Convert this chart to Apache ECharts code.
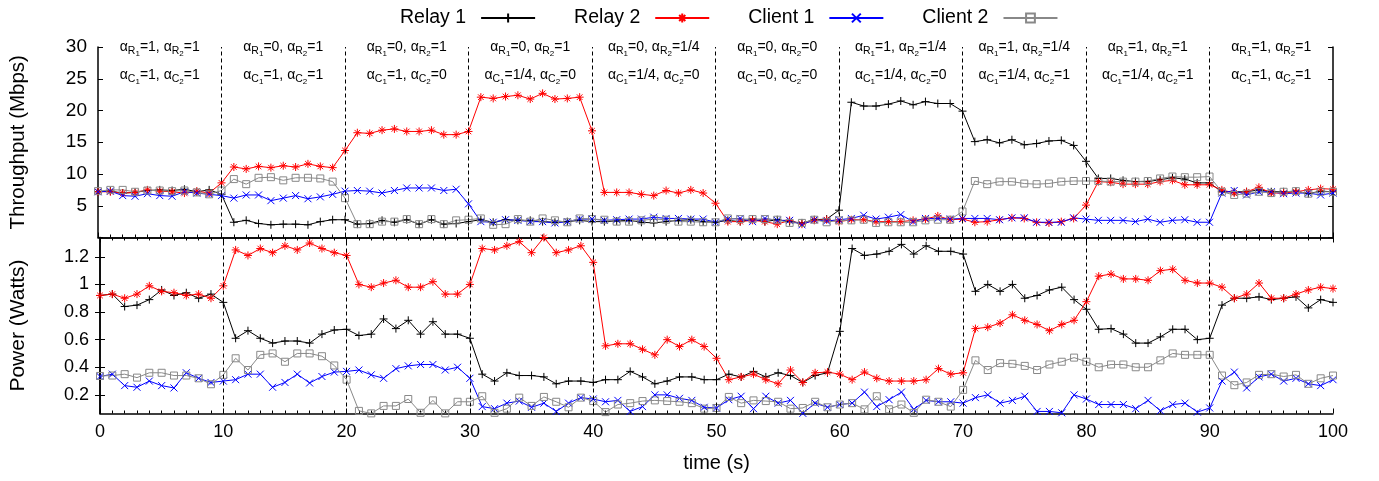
<!DOCTYPE html>
<html>
<head>
<meta charset="utf-8">
<script src="https://cdn.jsdelivr.net/npm/echarts@6/dist/echarts.min.js"></script>
<style>
  html, body { margin: 0; padding: 0; background: #fff; }
  #main { width: 1379px; height: 481px; }
</style>
</head>
<body>
<div id="main"></div>
<script>
// time axis, one sample per second
const seconds = [
  0,1,2,3,4,5,6,7,8,9,10,11,12,13,14,15,16,17,18,19,20,21,22,23,24,25,26,27,28,29,
  30,31,32,33,34,35,36,37,38,39,40,41,42,43,44,45,46,47,48,49,50,51,52,53,54,55,56,57,58,59,
  60,61,62,63,64,65,66,67,68,69,70,71,72,73,74,75,76,77,78,79,80,81,82,83,84,85,86,87,88,89,
  90,91,92,93,94,95,96,97,98,99,100
];

// throughput (Mbps)
const tputRelay1 = [
  7.2,7.3,7.0,7.1,7.4,7.5,7.4,7.6,7.2,7.5,
  6.8,2.4,2.7,2.2,2.0,2.1,2.1,2.0,2.5,2.8,
  2.8,2.1,2.2,2.7,2.4,2.8,2.1,2.8,2.1,2.2,
  2.5,2.8,2.4,2.8,2.7,2.7,2.5,2.4,2.5,2.7,
  2.5,2.5,2.6,2.7,2.4,2.3,2.5,2.7,2.8,2.5,
  2.4,2.7,2.5,2.9,2.5,2.8,2.5,2.3,2.8,2.9,
  4.3,21.3,20.7,20.7,21.0,21.5,20.9,21.4,21.1,21.1,
  19.9,15.1,15.4,14.9,15.4,14.6,14.8,15.2,15.3,14.5,
  12.0,9.3,9.3,9.0,8.8,8.8,9.1,9.4,9.2,8.6,
  8.6,7.2,7.2,7.2,7.5,7.2,7.2,7.3,6.9,7.3,
  7.2
];
const tputRelay2 = [
  7.2,7.2,7.0,7.1,7.5,7.3,7.2,7.0,7.3,7.0,
  8.6,11.1,10.8,11.2,11.0,11.3,11.1,11.6,11.2,11.0,
  13.7,16.5,16.4,16.9,17.1,16.7,16.7,16.9,16.2,16.2,
  16.7,22.1,21.9,22.2,22.4,21.8,22.7,21.8,21.9,22.1,
  16.8,7.1,7.1,7.1,6.8,6.6,7.4,7.0,7.5,7.0,
  5.4,2.5,2.5,2.7,2.5,2.1,2.7,2.1,2.7,2.8,
  2.5,2.8,2.8,2.5,2.5,2.5,2.7,2.9,3.4,2.8,
  2.9,2.4,2.5,2.8,3.1,3.0,2.4,2.3,2.5,3.0,
  5.1,8.8,8.7,8.4,8.4,8.4,8.8,9.0,8.3,8.3,
  8.3,7.5,7.0,7.2,7.9,7.0,7.0,7.2,7.5,7.7,
  7.6
];
const tputClient1 = [
  7.2,7.3,6.6,6.5,6.9,6.6,6.5,7.2,7.0,6.8,
  6.6,6.2,6.7,6.7,5.8,6.2,6.6,6.1,6.4,6.8,
  7.3,7.4,7.3,7.0,7.4,7.8,7.8,7.8,7.4,7.6,
  5.3,2.5,2.4,2.8,2.7,2.5,2.5,2.3,2.5,2.9,
  2.9,2.7,2.8,2.9,2.9,3.2,3.0,3.0,2.9,2.9,
  2.4,2.9,3.0,2.5,3.0,2.7,2.7,2.0,2.8,2.6,
  2.8,3.0,3.5,2.9,3.2,3.6,2.5,3.0,3.0,2.9,
  3.0,3.0,3.0,2.8,3.1,3.1,2.4,2.4,2.4,3.1,
  2.9,2.7,2.7,2.7,2.5,2.9,2.4,2.7,2.8,2.4,
  2.4,7.0,7.4,6.7,7.2,7.2,6.9,7.0,7.0,6.7,
  7.0
];
const tputClient2 = [
  7.3,7.5,7.5,7.2,7.4,7.4,7.3,7.4,7.1,6.8,
  7.4,9.2,8.4,9.4,9.5,9.0,9.4,9.4,9.3,8.8,
  6.2,2.1,2.1,2.5,2.5,2.9,2.1,2.9,2.1,2.7,
  2.8,3.0,2.0,2.1,2.9,2.5,3.0,2.7,2.4,3.0,
  2.9,2.8,2.5,2.5,2.7,2.9,2.8,2.5,2.5,2.4,
  2.4,3.0,2.9,2.9,2.9,2.8,2.3,2.3,2.8,2.4,
  2.7,2.7,2.8,2.3,2.4,2.4,2.4,2.7,2.8,2.8,
  4.1,8.9,8.4,8.8,8.8,8.5,8.4,8.5,8.8,8.9,
  8.9,8.9,8.8,8.8,8.8,8.9,9.3,9.6,9.5,9.5,
  9.6,7.2,6.7,6.9,7.2,7.0,7.2,7.3,6.9,7.2,
  7.2
];

// power (Watts)
const powerRelay1 = [
  0.92,0.93,0.84,0.85,0.89,0.96,0.92,0.94,0.90,0.93,
  0.87,0.61,0.665,0.61,0.575,0.59,0.59,0.575,0.64,0.67,
  0.675,0.63,0.64,0.75,0.68,0.74,0.64,0.73,0.64,0.64,
  0.61,0.35,0.30,0.36,0.34,0.34,0.33,0.28,0.30,0.30,
  0.29,0.31,0.31,0.37,0.33,0.28,0.30,0.33,0.33,0.31,
  0.31,0.35,0.33,0.37,0.33,0.36,0.34,0.29,0.34,0.36,
  0.66,1.26,1.21,1.22,1.24,1.29,1.22,1.28,1.24,1.24,
  1.22,0.95,1.0,0.95,1.0,0.90,0.92,0.96,0.98,0.89,
  0.82,0.675,0.68,0.64,0.575,0.575,0.62,0.675,0.675,0.60,
  0.61,0.85,0.90,0.90,0.91,0.89,0.90,0.91,0.83,0.89,
  0.87
];
const powerRelay2 = [
  0.92,0.93,0.90,0.93,0.99,0.95,0.94,0.92,0.93,0.90,
  0.99,1.25,1.21,1.26,1.23,1.28,1.25,1.30,1.26,1.23,
  1.21,1.0,0.98,1.01,1.03,0.98,0.98,1.02,0.93,0.93,
  1.0,1.26,1.25,1.28,1.31,1.23,1.34,1.23,1.25,1.28,
  1.16,0.555,0.57,0.57,0.53,0.49,0.60,0.55,0.60,0.55,
  0.465,0.31,0.33,0.35,0.31,0.28,0.38,0.29,0.36,0.365,
  0.35,0.31,0.365,0.32,0.30,0.30,0.30,0.31,0.39,0.35,
  0.36,0.68,0.69,0.72,0.78,0.74,0.71,0.665,0.71,0.74,
  0.875,1.06,1.075,1.04,1.04,1.03,1.10,1.11,1.03,1.01,
  1.01,0.98,0.90,0.93,1.01,0.90,0.90,0.93,0.96,0.98,
  0.97
];
const powerClient1 = [
  0.333,0.35,0.267,0.255,0.30,0.267,0.25,0.36,0.32,0.29,
  0.30,0.31,0.35,0.35,0.255,0.29,0.35,0.286,0.333,0.365,
  0.37,0.38,0.345,0.32,0.39,0.41,0.42,0.42,0.38,0.40,
  0.32,0.115,0.10,0.14,0.155,0.11,0.14,0.08,0.14,0.18,
  0.17,0.15,0.16,0.08,0.115,0.20,0.20,0.175,0.16,0.11,
  0.105,0.165,0.19,0.10,0.19,0.14,0.16,0.066,0.14,0.11,
  0.13,0.14,0.22,0.115,0.165,0.22,0.095,0.16,0.15,0.15,
  0.14,0.18,0.20,0.14,0.16,0.19,0.08,0.08,0.07,0.20,
  0.17,0.13,0.13,0.13,0.10,0.16,0.085,0.13,0.14,0.075,
  0.105,0.30,0.365,0.25,0.33,0.35,0.30,0.32,0.28,0.267,
  0.31
];
const powerClient2 = [
  0.337,0.34,0.35,0.325,0.36,0.36,0.34,0.34,0.32,0.277,
  0.345,0.465,0.38,0.49,0.50,0.44,0.50,0.50,0.48,0.413,
  0.31,0.084,0.066,0.12,0.12,0.17,0.07,0.16,0.066,0.15,
  0.15,0.19,0.07,0.10,0.18,0.12,0.185,0.15,0.11,0.18,
  0.155,0.075,0.13,0.14,0.155,0.16,0.155,0.15,0.14,0.10,
  0.105,0.185,0.14,0.16,0.155,0.15,0.10,0.105,0.15,0.11,
  0.13,0.14,0.095,0.19,0.095,0.13,0.07,0.165,0.15,0.115,
  0.236,0.45,0.38,0.43,0.425,0.41,0.38,0.42,0.44,0.47,
  0.44,0.40,0.42,0.42,0.40,0.40,0.45,0.50,0.49,0.49,
  0.49,0.34,0.27,0.29,0.345,0.35,0.333,0.345,0.28,0.32,
  0.34
];

// phase boundaries and the alpha settings of each phase
const phaseBounds = [10, 20, 30, 40, 50, 60, 70, 80, 90];
const phaseCenters = [5, 15, 25, 35, 45, 55, 65, 75, 85, 95];
const alphaR1 = ['1', '0', '0', '0', '0', '0', '1', '1', '1', '1'];
const alphaR2 = ['1', '1', '1', '1', '1/4', '0', '1/4', '1/4', '1', '1'];
const alphaC1 = ['1', '1', '1', '1/4', '1/4', '0', '1/4', '1/4', '1/4', '1'];
const alphaC2 = ['1', '1', '0', '0', '0', '0', '0', '1', '1', '1'];

const powerTicks = [0.2, 0.4, 0.6, 0.8, 1, 1.2];

const FONT = '"Liberation Sans", Arial, Helvetica, sans-serif';

const SYM_PLUS = 'path://M5,0L5,10M0,5L10,5';
const SYM_STAR = 'path://M5,0L5,10M0,5L10,5M1.5,1.5L8.5,8.5M8.5,1.5L1.5,8.5';
const SYM_CROSS = 'path://M0,0L10,10M10,0L0,10';
const SYM_BOX = 'path://M0,0L10,0L10,10L0,10Z';

const chart = echarts.init(document.getElementById('main'));

function pairs(vals) {
  return vals.map((v, i) => [seconds[i], v]);
}

function lineSeries(name, vals, grid, color, symbol, size, fill) {
  return {
    name: name,
    type: 'line',
    xAxisIndex: grid === 0 ? 0 : 1,
    yAxisIndex: grid === 0 ? 0 : 2,
    data: pairs(vals),
    symbol: symbol,
    symbolSize: size,
    showAllSymbol: true,
    lineStyle: { color: color, width: 1 },
    itemStyle: { color: fill, borderColor: color, borderWidth: 1 },
    emphasis: { disabled: true },
    animation: false
  };
}

function dividers() {
  return {
    silent: true,
    symbol: ['none', 'none'],
    label: { show: false },
    lineStyle: { color: '#000', width: 1, type: [4, 3] },
    data: phaseBounds.map(x => ({ xAxis: x }))
  };
}

const subRich = {
  a: { fontSize: 14, fontFamily: FONT, color: '#000' },
  s: { fontSize: 10.5, fontFamily: FONT, color: '#000', padding: [7, 0, 0, 0] },
  ss: { fontSize: 8, fontFamily: FONT, color: '#000', padding: [12, 0, 0, 0] }
};

function alphaText(letter, v1, v2) {
  return '{a|α}{s|' + letter + '}{ss|1}{a|=' + v1 + ', α}{s|' + letter + '}{ss|2}{a|=' + v2 + '}';
}

function annotationSeries(yVal, letter, first, second) {
  return {
    type: 'scatter',
    xAxisIndex: 0,
    yAxisIndex: 0,
    silent: true,
    symbolSize: 1,
    itemStyle: { color: 'rgba(255,255,255,0)', opacity: 1 },
    data: phaseCenters.map(x => [x, yVal]),
    label: {
      show: true,
      position: 'inside',
      align: 'center',
      verticalAlign: 'middle',
      color: '#000',
      opacity: 1,
      textBorderWidth: 0,
      formatter: p => alphaText(letter, first[p.dataIndex], second[p.dataIndex]),
      rich: subRich
    },
    animation: false
  };
}

const tickLabel = { fontSize: 18, fontFamily: FONT, color: '#000' };

const series = [
  lineSeries('Relay 1', tputRelay1, 0, '#000000', SYM_PLUS, 8, '#000000'),
  lineSeries('Relay 2', tputRelay2, 0, '#ff0000', SYM_STAR, 8, '#ff0000'),
  lineSeries('Client 1', tputClient1, 0, '#0000ff', SYM_CROSS, 7, '#0000ff'),
  lineSeries('Client 2', tputClient2, 0, '#888888', SYM_BOX, 7, 'rgba(0,0,0,0)'),
  lineSeries('Relay 1', powerRelay1, 1, '#000000', SYM_PLUS, 8, '#000000'),
  lineSeries('Relay 2', powerRelay2, 1, '#ff0000', SYM_STAR, 8, '#ff0000'),
  lineSeries('Client 1', powerClient1, 1, '#0000ff', SYM_CROSS, 7, '#0000ff'),
  lineSeries('Client 2', powerClient2, 1, '#888888', SYM_BOX, 7, 'rgba(0,0,0,0)'),
  annotationSeries(29.9, 'R', alphaR1, alphaR2),
  annotationSeries(25.5, 'C', alphaC1, alphaC2)
];
series[0].markLine = dividers();
series[4].markLine = dividers();

const option = {
  backgroundColor: '#fff',
  animation: false,
  legend: {
    data: ['Relay 1', 'Relay 2', 'Client 1', 'Client 2'],
    top: 3,
    left: 395,
    align: 'right',
    itemWidth: 54,
    itemHeight: 11,
    itemGap: 38,
    selectedMode: false,
    textStyle: { fontSize: 19.5, fontFamily: FONT, color: '#000', padding: [0, 10, 0, 0] }
  },
  grid: [
    { left: 97.5, right: 46, top: 47, height: 190.5 },
    { left: 97.5, right: 46, top: 237.5, height: 176 }
  ],
  xAxis: [
    {
      gridIndex: 0, type: 'value', min: 0, max: 100, interval: 10, position: 'bottom',
      axisLine: { lineStyle: { color: '#000', width: 1.5 } },
      axisTick: { inside: true, length: 5, lineStyle: { color: '#000' } },
      minorTick: { show: true, splitNumber: 10, length: 3, lineStyle: { color: '#000' } },
      axisLabel: { show: false },
      splitLine: { show: false }
    },
    {
      gridIndex: 1, type: 'value', min: 0, max: 100, interval: 10, position: 'bottom',
      name: 'time (s)', nameLocation: 'middle', nameGap: 40,
      nameTextStyle: { fontSize: 20, fontFamily: FONT, color: '#000' },
      axisLine: { lineStyle: { color: '#000', width: 1.5 } },
      axisTick: { inside: true, length: 5, lineStyle: { color: '#000' } },
      minorTick: { show: true, splitNumber: 10, length: 3, lineStyle: { color: '#000' } },
      axisLabel: Object.assign({ margin: 10 }, tickLabel),
      splitLine: { show: false }
    },
    {
      gridIndex: 1, type: 'value', min: 0, max: 100, interval: 10, position: 'top',
      axisLine: { lineStyle: { color: '#000', width: 1.5 } },
      axisTick: { inside: true, length: 5, lineStyle: { color: '#000' } },
      minorTick: { show: true, splitNumber: 10, length: 3, lineStyle: { color: '#000' } },
      axisLabel: { show: false },
      splitLine: { show: false }
    }
  ],
  yAxis: [
    {
      gridIndex: 0, type: 'value', min: 0, max: 30, interval: 5, position: 'left',
      name: 'Throughput (Mbps)', nameLocation: 'middle', nameGap: 69,
      nameTextStyle: { fontSize: 20.5, fontFamily: FONT, color: '#000' },
      axisLine: { show: true, lineStyle: { color: '#000', width: 1.5 } },
      axisTick: { inside: true, length: 5, lineStyle: { color: '#000' } },
      axisLabel: Object.assign({ margin: 11, formatter: v => (v === 0 ? '' : String(v)) }, tickLabel, { fontSize: 19 }),
      splitLine: { show: false }
    },
    {
      gridIndex: 0, type: 'value', min: 0, max: 30, interval: 5, position: 'right',
      axisLine: { show: true, lineStyle: { color: '#000', width: 1.5 } },
      axisTick: { inside: true, length: 5, lineStyle: { color: '#000' } },
      axisLabel: { show: false },
      splitLine: { show: false }
    },
    {
      gridIndex: 1, type: 'value', min: 0.065, max: 1.34, position: 'left',
      name: 'Power (Watts)', nameLocation: 'middle', nameGap: 71,
      nameTextStyle: { fontSize: 21, fontFamily: FONT, color: '#000' },
      axisLine: { show: true, lineStyle: { color: '#000', width: 1.5 } },
      axisTick: { inside: true, length: 5, customValues: powerTicks, lineStyle: { color: '#000' } },
      axisLabel: Object.assign({ margin: 11, customValues: powerTicks }, tickLabel),
      splitLine: { show: false }
    },
    {
      gridIndex: 1, type: 'value', min: 0.065, max: 1.34, position: 'right',
      axisLine: { show: true, lineStyle: { color: '#000', width: 1.5 } },
      axisTick: { inside: true, length: 5, customValues: powerTicks, lineStyle: { color: '#000' } },
      axisLabel: { show: false },
      splitLine: { show: false }
    }
  ],
  series: series
};

chart.setOption(option);
</script>
</body>
</html>
